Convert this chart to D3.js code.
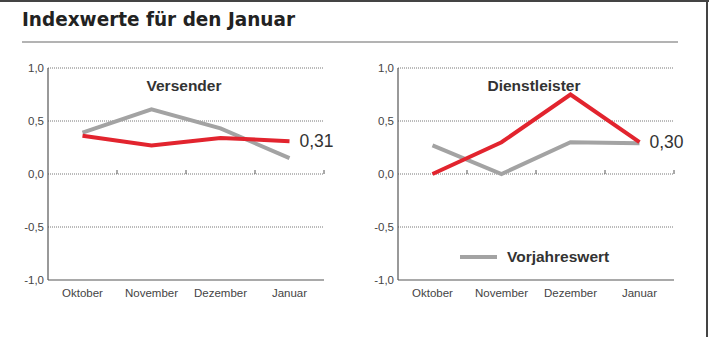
<!DOCTYPE html>
<html>
<head>
<meta charset="utf-8">
<script src="https://cdn.jsdelivr.net/npm/d3@7"></script>
<style>
  body { margin: 0; background: #fff; }
  svg { display: block; font-family: "Liberation Sans", Arial, sans-serif; }
</style>
</head>
<body>
<div class="chart"></div>
<script>
// months on the x axis
var months = ["Oktober", "November", "Dezember", "Januar"];
var yTicks = [1.0, 0.5, 0.0, -0.5, -1.0];

// Versender
var versenderAktuell = [0.36, 0.27, 0.34, 0.31];
var versenderVorjahr = [0.39, 0.61, 0.43, 0.15];

// Dienstleister
var dienstAktuell = [0.00, 0.30, 0.75, 0.30];
var dienstVorjahr = [0.27, 0.00, 0.30, 0.29];

var panels = [
  {title: "Versender", aktuell: versenderAktuell, vorjahr: versenderVorjahr, label: "0,31", legend: false},
  {title: "Dienstleister", aktuell: dienstAktuell, vorjahr: dienstVorjahr, label: "0,30", legend: true}
];

var W = 709, H = 337;
var red = "#e2242e", grey = "#a3a3a3";

var svg = d3.select("div.chart").append("svg")
    .attr("width", W)
    .attr("height", H);

// frame: dark top edge and right edge
svg.append("rect").attr("x", 0).attr("y", 0).attr("width", W).attr("height", 2).attr("fill", "#444");
svg.append("rect").attr("x", 706).attr("y", 0).attr("width", 2).attr("height", H).attr("fill", "#444");

svg.append("text")
    .attr("x", 22).attr("y", 26)
    .attr("font-size", 20)
    .attr("font-family", "'DejaVu Sans', sans-serif")
    .attr("font-weight", "bold")
    .attr("textLength", 273)
    .attr("lengthAdjust", "spacingAndGlyphs")
    .attr("fill", "#222")
    .text("Indexwerte für den Januar");

svg.append("line")
    .attr("x1", 22).attr("x2", 678)
    .attr("y1", 42).attr("y2", 42)
    .attr("stroke", "#9a9a9a").attr("stroke-width", 1.5);

var y = d3.scaleLinear().domain([-1, 1]).range([280, 68]);

panels.forEach(function(p, i) {
  var x0 = 48 + i * 350;
  var x = d3.scaleBand().domain(months).range([x0, x0 + 276]);
  var cx = function(m) { return x(m) + x.bandwidth() / 2; };

  var g = svg.append("g");

  // dotted grid lines
  g.selectAll(".grid")
    .data(yTicks.filter(function(t) { return t > -1; }))
    .enter().append("line")
      .attr("x1", x0).attr("x2", x0 + 276)
      .attr("y1", function(d) { return y(d); })
      .attr("y2", function(d) { return y(d); })
      .attr("stroke", "#777")
      .attr("stroke-width", 1)
      .attr("stroke-dasharray", "1,1");

  // small ticks on the zero line between months
  g.selectAll(".zt")
    .data(months.slice(1).concat(["end"]))
    .enter().append("line")
      .attr("x1", function(d) { return d === "end" ? x0 + 276 : x(d); })
      .attr("x2", function(d) { return d === "end" ? x0 + 276 : x(d); })
      .attr("y1", y(0)).attr("y2", y(0) - 4)
      .attr("stroke", "#555").attr("stroke-width", 1);

  // axes lines
  g.append("line").attr("x1", x0).attr("x2", x0).attr("y1", y(1)).attr("y2", y(-1))
    .attr("stroke", "#555").attr("stroke-width", 1.2);
  g.append("line").attr("x1", x0).attr("x2", x0 + 276).attr("y1", y(-1)).attr("y2", y(-1))
    .attr("stroke", "#555").attr("stroke-width", 1.2);

  g.selectAll(".yl")
    .data(yTicks)
    .enter().append("text")
      .attr("x", x0 - 4)
      .attr("y", function(d) { return y(d) + 4; })
      .attr("text-anchor", "end")
      .attr("font-size", 11.5)
      .attr("fill", "#444")
      .text(function(d) { return d3.format(".1f")(d).replace(".", ",").replace("−", "-"); });

  g.selectAll(".xl")
    .data(months)
    .enter().append("text")
      .attr("x", cx)
      .attr("y", 297)
      .attr("text-anchor", "middle")
      .attr("font-size", 11.5)
      .attr("fill", "#444")
      .text(function(d) { return d; });

  g.append("text")
    .attr("x", x0 + 136).attr("y", 91)
    .attr("text-anchor", "middle")
    .attr("font-size", 15.5)
    .attr("font-weight", "bold")
    .attr("fill", "#333")
    .text(p.title);

  var line = d3.line()
    .x(function(d, j) { return cx(months[j]); })
    .y(function(d) { return y(d); });

  g.append("path").datum(p.vorjahr)
    .attr("d", line).attr("fill", "none")
    .attr("stroke", grey).attr("stroke-width", 4);

  g.append("path").datum(p.aktuell)
    .attr("d", line).attr("fill", "none")
    .attr("stroke", red).attr("stroke-width", 4);

  g.append("text")
    .attr("x", cx(months[3]) + 10)
    .attr("y", y(p.aktuell[3]) + 6)
    .attr("font-size", 17.5)
    .attr("fill", "#333")
    .text(p.label);

  if (p.legend) {
    g.append("line")
      .attr("x1", x0 + 62).attr("x2", x0 + 99)
      .attr("y1", 257).attr("y2", 257)
      .attr("stroke", grey).attr("stroke-width", 4);
    g.append("text")
      .attr("x", x0 + 109).attr("y", 262)
      .attr("font-size", 15.5)
      .attr("font-weight", "bold")
      .attr("fill", "#333")
      .text("Vorjahreswert");
  }
});
</script>
</body>
</html>
